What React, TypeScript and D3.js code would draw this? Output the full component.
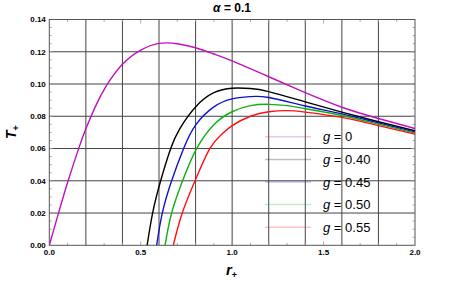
import { curveNatural, line, range, scaleLinear } from "d3";
import type { ReactElement } from "react";

type Pt = readonly [number, number];

// values (r+, T+)
const seriesG0: ReadonlyArray<Pt> = [
  [0, 0], [0.05, 0.0198], [0.1, 0.0389], [0.16, 0.0598], [0.2, 0.0722], [0.25, 0.0855],
  [0.31, 0.0985], [0.4, 0.1122], [0.5, 0.121], [0.6, 0.1252], [0.7, 0.125],
  [0.8, 0.1225], [0.9, 0.1186], [1.0, 0.1143], [1.2, 0.1045], [1.4, 0.0946],
  [1.6, 0.0856], [1.8, 0.0786], [2.0, 0.0724],
];
const seriesG040: ReadonlyArray<Pt> = [
  [0.535, 0], [0.565, 0.02], [0.609, 0.04], [0.664, 0.06], [0.714, 0.0724],
  [0.8, 0.0858], [0.9, 0.0946], [1.0, 0.0974], [1.1, 0.0972], [1.2, 0.0953],
  [1.4, 0.0889], [1.6, 0.0826], [1.8, 0.0766], [2.0, 0.071],
];
const seriesG045: ReadonlyArray<Pt> = [
  [0.587, 0], [0.618, 0.02], [0.669, 0.04], [0.733, 0.0596], [0.8, 0.0745],
  [0.9, 0.0858], [1.0, 0.0908], [1.1, 0.0922], [1.2, 0.0916], [1.4, 0.0864],
  [1.6, 0.0815], [1.8, 0.0759], [2.0, 0.0703],
];
const seriesG050: ReadonlyArray<Pt> = [
  [0.633, 0], [0.669, 0.02], [0.729, 0.04], [0.804, 0.0596], [0.9, 0.0748],
  [1.0, 0.0828], [1.1, 0.0866], [1.2, 0.0874], [1.3, 0.0866], [1.4, 0.0847],
  [1.6, 0.0805], [1.8, 0.0751], [2.0, 0.0697],
];
const seriesG055: ReadonlyArray<Pt> = [
  [0.678, 0], [0.727, 0.02], [0.797, 0.04], [0.877, 0.0598], [0.94, 0.0685],
  [1.0, 0.0742], [1.1, 0.08], [1.2, 0.0828], [1.3, 0.0835], [1.4, 0.0826],
  [1.6, 0.0793], [1.8, 0.0742], [2.0, 0.0689],
];

const legendLabels = ["0", "0.40", "0.45", "0.50", "0.55"];
const curveColors = ["#c010c0", "#000000", "#1010d0", "#10b010", "#ff1010"];
const allSeries = [seriesG0, seriesG040, seriesG045, seriesG050, seriesG055];

const xTickLabels = [0, 0.5, 1.0, 1.5, 2.0];
const yTickLabels = [0, 0.02, 0.04, 0.06, 0.08, 0.1, 0.12, 0.14];

const width = 457;
const height = 286;
const plot = { left: 49.3, right: 415, top: 19.5, bottom: 245.3 };
const font = "'Liberation Sans', Arial, sans-serif";

export default function App(): ReactElement {
  const x = scaleLinear().domain([0, 2]).range([plot.left, plot.right]);
  const y = scaleLinear().domain([0, 0.14]).range([plot.bottom, plot.top]);

  const lineGen = line<Pt>()
    .x((d) => x(d[0]))
    .y((d) => y(d[1]))
    .curve(curveNatural);

  const xGrid = range(1, 10).map((i) => i * 0.2);
  const yGrid = range(1, 7).map((i) => i * 0.02);
  const xMinor = range(1, 20).map((i) => i * 0.1);
  const yMinor = range(1, 28).map((i) => i * 0.005);

  const legendY0 = 136.8;
  const legendStep = 22.6;

  return (
    <svg
      width={width}
      height={height}
      viewBox={`0 0 ${width} ${height}`}
      style={{ position: "absolute", left: 0, top: 0, background: "#fff" }}
      fontFamily={font}
    >
      <defs>
        <clipPath id="plot-clip">
          <rect x={plot.left} y={plot.top} width={plot.right - plot.left} height={plot.bottom - plot.top} />
        </clipPath>
      </defs>

      {/* grid */}
      {xGrid.map((v) => (
        <line key={`gx-${v}`} x1={x(v)} x2={x(v)} y1={plot.top} y2={plot.bottom} stroke="#444" strokeWidth={1} />
      ))}
      {yGrid.map((v) => (
        <line key={`gy-${v}`} x1={plot.left} x2={plot.right} y1={y(v)} y2={y(v)} stroke="#444" strokeWidth={1} />
      ))}

      {/* minor ticks */}
      {xMinor.map((v) => {
        const major = Math.abs(v * 2 - Math.round(v * 2)) < 1e-6;
        const len = major ? 4 : 2.5;
        return (
          <g key={`mx-${v}`} stroke="#999" strokeWidth={0.8}>
            <line x1={x(v)} x2={x(v)} y1={plot.bottom} y2={plot.bottom - len} />
            <line x1={x(v)} x2={x(v)} y1={plot.top} y2={plot.top + len} />
          </g>
        );
      })}
      {yMinor.map((v) => {
        const major = Math.abs(v / 0.02 - Math.round(v / 0.02)) < 1e-6;
        const len = major ? 4 : 2.5;
        return (
          <g key={`my-${v}`} stroke="#999" strokeWidth={0.8}>
            <line x1={plot.left} x2={plot.left + len} y1={y(v)} y2={y(v)} />
            <line x1={plot.right} x2={plot.right - len} y1={y(v)} y2={y(v)} />
          </g>
        );
      })}

      {/* frame */}
      <rect
        x={plot.left}
        y={plot.top}
        width={plot.right - plot.left}
        height={plot.bottom - plot.top}
        fill="none"
        stroke="#555"
        strokeWidth={1}
      />

      {/* curves */}
      <g clipPath="url(#plot-clip)">
        {allSeries.map((s, i) => (
          <path key={`c-${i}`} d={lineGen(s) ?? ""} fill="none" stroke={curveColors[i]} strokeWidth={1.4} />
        ))}
      </g>

      {/* legend */}
      {legendLabels.map((lab, i) => {
        const ly = legendY0 + i * legendStep;
        return (
          <g key={`lg-${lab}`}>
            <line x1={265} x2={311} y1={ly} y2={ly} stroke={curveColors[i]} strokeOpacity={0.25} strokeWidth={1.5} />
            <text x={323} y={ly + 4.6} fontSize={13} fill="#000">
              <tspan fontStyle="italic">g</tspan>
              <tspan> = {lab}</tspan>
            </text>
          </g>
        );
      })}

      {/* tick labels */}
      {yTickLabels.map((v) => (
        <text
          key={`yl-${v}`}
          x={plot.left - 3.5}
          y={y(v) + 2.8}
          textAnchor="end"
          fontSize={8}
          fontWeight="bold"
          fill="#000"
        >
          {v.toFixed(2)}
        </text>
      ))}
      {xTickLabels.map((v) => (
        <text
          key={`xl-${v}`}
          x={x(v)}
          y={plot.bottom + 10}
          textAnchor="middle"
          fontSize={8}
          fontWeight="bold"
          fill="#000"
        >
          {v.toFixed(1)}
        </text>
      ))}

      {/* title */}
      <text x={232} y={12} textAnchor="middle" fontSize={12} fontWeight="bold" fill="#000">
        <tspan fontStyle="italic">α</tspan>
        <tspan> = 0.1</tspan>
      </text>

      {/* axis labels */}
      <text x={226} y={275} textAnchor="start" fontSize={15} fontWeight="bold" fontStyle="italic" fill="#000">
        r
        <tspan fontSize={9} dy={3} fontStyle="normal">+</tspan>
      </text>
      <text
        transform={`translate(16, 139) rotate(-90)`}
        textAnchor="start"
        fontSize={14}
        fontWeight="bold"
        fontStyle="italic"
        fill="#000"
      >
        T
        <tspan fontSize={9} dy={3} fontStyle="normal">+</tspan>
      </text>
    </svg>
  );
}
